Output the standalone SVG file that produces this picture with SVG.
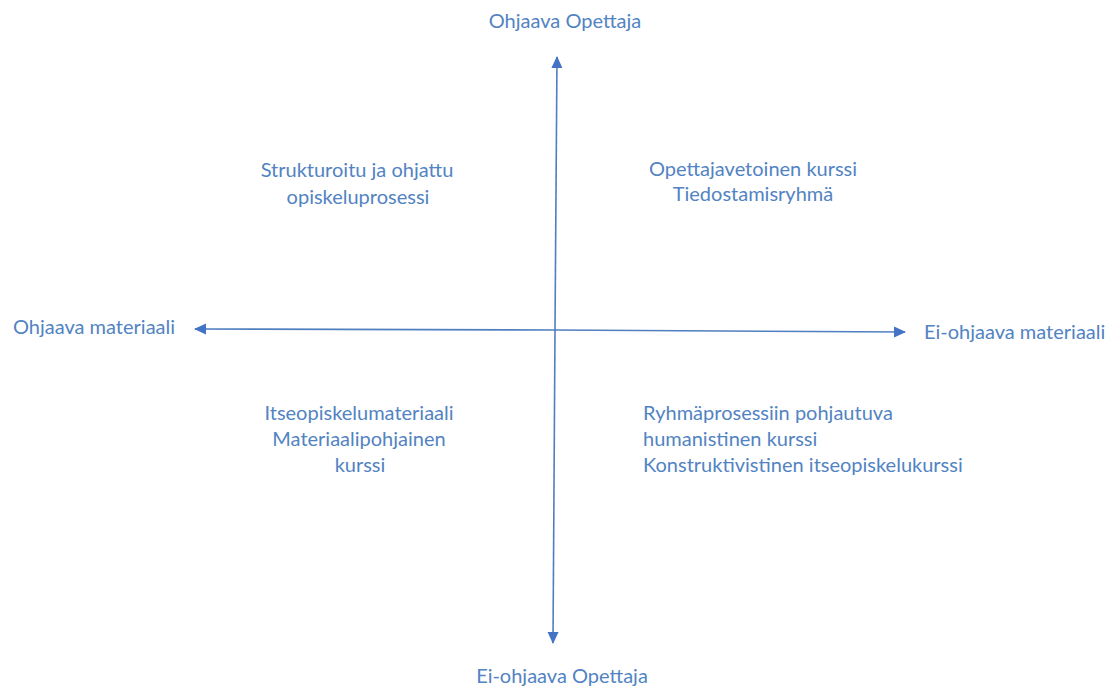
<svg xmlns="http://www.w3.org/2000/svg" width="1118" height="690" viewBox="0 0 1118 690">
  <style>
    .t { font-family: Lato, "Open Sans", "Liberation Sans", sans-serif; font-size: 20px; fill: #5283c2; }
    .ax { stroke: #4f7fbf; stroke-width: 1.6; fill: none; marker-end: url(#ah); }
  </style>
  <defs>
    <marker id="ah" markerUnits="userSpaceOnUse" markerWidth="12" markerHeight="12" viewBox="0 0 12 12" refX="11" refY="6" orient="auto">
      <path d="M0,0.5 L12,6 L0,11.5 Z" fill="#4472c4"/>
    </marker>
  </defs>
  <rect width="1118" height="690" fill="#ffffff"/>
  <g id="connectors">
    <line class="ax" x1="555" y1="330" x2="557" y2="57"/>
    <line class="ax" x1="555" y1="330" x2="553" y2="643"/>
    <line class="ax" x1="555" y1="330" x2="195" y2="329"/>
    <line class="ax" x1="555" y1="330" x2="905" y2="332"/>
  </g>
  <g id="top-label"><text class="t" x="565" y="28" text-anchor="middle">Ohjaava Opettaja</text></g>
  <g id="bottom-label"><text class="t" x="562" y="683" text-anchor="middle">Ei-ohjaava Opettaja</text></g>
  <g id="left-label"><text class="t" x="13" y="334">Ohjaava materiaali</text></g>
  <g id="right-label"><text class="t" x="924" y="339">Ei-ohjaava materiaali</text></g>
  <g id="q-top-left" text-anchor="middle">
    <text class="t" x="357" y="177">Strukturoitu ja ohjattu</text>
    <text class="t" x="358" y="204">opiskeluprosessi</text>
  </g>
  <g id="q-top-right" text-anchor="middle">
    <text class="t" x="753" y="176">Opettajavetoinen kurssi</text>
    <text class="t" x="753" y="201">Tiedostamisryhmä</text>
  </g>
  <g id="q-bottom-left" text-anchor="middle">
    <text class="t" x="359" y="420">Itseopiskelumateriaali</text>
    <text class="t" x="359" y="446">Materiaalipohjainen</text>
    <text class="t" x="360" y="472">kurssi</text>
  </g>
  <g id="q-bottom-right">
    <text class="t" x="643" y="420">Ryhmäprosessiin pohjautuva</text>
    <text class="t" x="643" y="446">humanistinen kurssi</text>
    <text class="t" x="643" y="472">Konstruktivistinen itseopiskelukurssi</text>
  </g>
</svg>
